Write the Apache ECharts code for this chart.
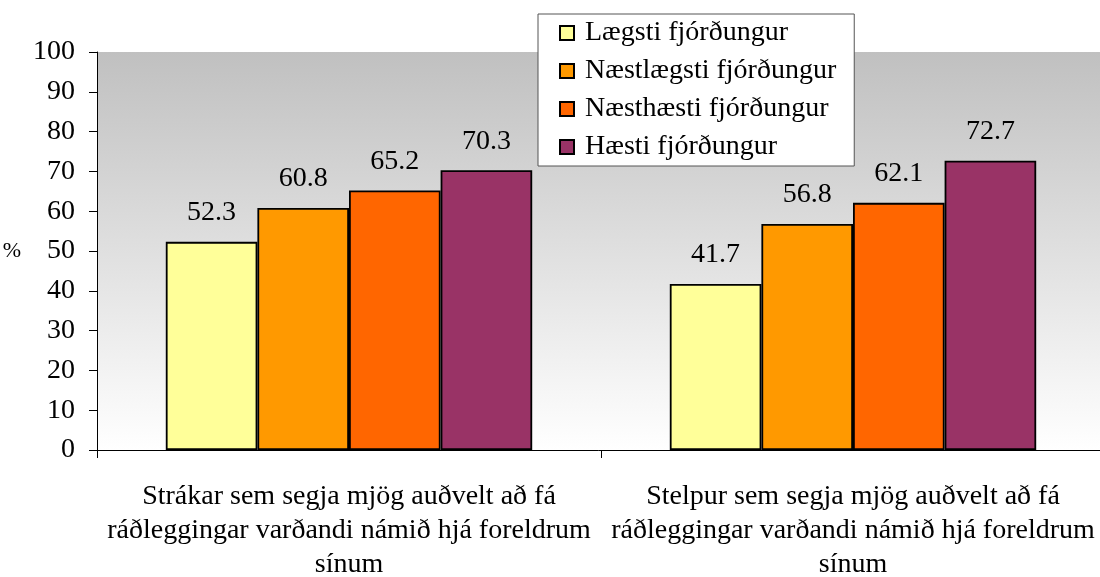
<!DOCTYPE html>
<html>
<head>
<meta charset="utf-8">
<style>
  html, body { margin: 0; padding: 0; background: #fff; }
  #chart { width: 1100px; height: 577px; }
</style>
<script src="https://cdn.jsdelivr.net/npm/echarts@6/dist/echarts.min.js"></script>
</head>
<body>
<div id="chart"></div>
<script>
var categories = [
  'Strákar sem segja mjög auðvelt að fá ráðleggingar varðandi námið hjá foreldrum sínum',
  'Stelpur sem segja mjög auðvelt að fá ráðleggingar varðandi námið hjá foreldrum sínum'
];
var seriesNames = ['Lægsti fjórðungur', 'Næstlægsti fjórðungur', 'Næsthæsti fjórðungur', 'Hæsti fjórðungur'];
var lowest = [52.3, 41.7];
var secondLowest = [60.8, 56.8];
var secondHighest = [65.2, 62.1];
var highest = [70.3, 72.7];
var colors = ['#ffff99', '#ff9900', '#ff6600', '#993366'];

var font = 'Liberation Serif';
var values = [lowest, secondLowest, secondHighest, highest];

// word wrap the long category names to a fixed pixel width
var measure = document.createElement('canvas').getContext('2d');
measure.font = '28px ' + font;
function wrap(text, maxWidth) {
  var words = text.split(' ');
  var lines = [];
  var line = '';
  words.forEach(function(w) {
    var test = line ? line + ' ' + w : w;
    if (line && measure.measureText(test).width > maxWidth) {
      lines.push(line);
      line = w;
    } else {
      line = test;
    }
  });
  if (line) lines.push(line);
  return lines.join('\n');
}

var chart = echarts.init(document.getElementById('chart'), null, { renderer: 'canvas' });

var series = seriesNames.map(function(name, i) {
  return {
    name: name,
    type: 'bar',
    data: values[i],
    barGap: '0%',
    barCategoryGap: '27.3%',
    itemStyle: { color: colors[i], borderColor: '#000', borderWidth: 1.8 },
    label: {
      show: true,
      position: 'top',
      distance: 15,
      color: '#000',
      fontFamily: font,
      fontSize: 28
    }
  };
});

chart.setOption({
  animation: false,
  textStyle: { fontFamily: font, fontSize: 28 },
  grid: {
    left: 97,
    top: 52,
    width: 1008,
    height: 398,
    outerBoundsMode: 'none',
    containLabel: false,
    show: true,
    borderWidth: 0,
    backgroundColor: new echarts.graphic.LinearGradient(0, 0, 0, 1, [
      { offset: 0, color: '#c0c0c0' },
      { offset: 1, color: '#ffffff' }
    ])
  },
  legend: {
    orient: 'vertical',
    left: 538,
    top: 14,
    padding: [5, 18, 5, 21],
    itemGap: 10,
    itemWidth: 14,
    itemHeight: 14,
    icon: 'rect',
    backgroundColor: '#fff',
    borderColor: '#555',
    borderWidth: 1,
    textStyle: { color: '#000', fontFamily: font, fontSize: 28, padding: [0, 0, 0, 6] },
    data: seriesNames
  },
  xAxis: {
    type: 'category',
    data: categories,
    axisLine: { lineStyle: { color: '#000', width: 1 } },
    axisTick: { show: true, length: 8, lineStyle: { color: '#000' } },
    axisLabel: {
      color: '#000',
      fontFamily: font,
      fontSize: 28,
      lineHeight: 34,
      margin: 30,
      interval: 0,
      hideOverlap: false,
      formatter: function(v) { return wrap(v, 520); }
    }
  },
  yAxis: {
    type: 'value',
    min: 0,
    max: 100,
    interval: 10,
    name: '%',
    nameLocation: 'middle',
    nameRotate: 0,
    nameGap: 76,
    nameTextStyle: { color: '#000', fontFamily: font, fontSize: 22 },
    axisLine: { show: true, lineStyle: { color: '#000', width: 1 } },
    axisTick: { show: true, length: 8, lineStyle: { color: '#000' } },
    splitLine: { show: false },
    axisLabel: { color: '#000', fontFamily: font, fontSize: 28, margin: 22 }
  },
  series: series
});
</script>
</body>
</html>
